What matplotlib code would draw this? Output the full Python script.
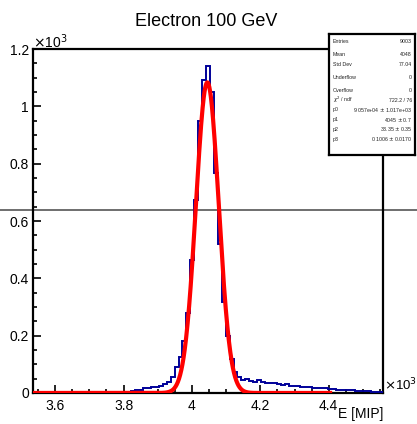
import numpy as np
import matplotlib
matplotlib.use("Agg")
import matplotlib.pyplot as plt
from matplotlib.lines import Line2D

plt.rcParams['font.family'] = ['Liberation Sans', 'DejaVu Sans']

# ---------------- data ----------------
title = "Electron 100 GeV"
xlabel = "E [MIP]"
hist_lo = 3.5352          # x10^3 MIP
bin_width = 0.0115        # x10^3 MIP
counts = [0] * 22 + [
    2, 3, 5, 8, 12, 12, 16, 18, 20, 22, 26, 32, 38, 55, 90, 125, 180, 280, 464,
    673, 950, 1092, 1140, 1050, 768, 520, 317, 200, 120, 75, 55, 45, 48, 42, 40,
    44, 38, 36, 34, 36, 30, 28, 32, 26, 24, 25, 22, 20, 21, 18, 19, 16, 17, 14,
    13, 12, 11, 10, 9, 10, 8, 7, 8, 6, 5, 5, 4]
fit_p = [9.057e4, 4045.0, 33.35, 0.1006]   # p0..p3
fit_range = [3.5352, 4.41]

stats_labels = ["Entries", "Mean", "Std Dev", "Underflow", "Overflow",
                r"$\chi^{2}$ / ndf", "p0", "p1", "p2", "p3"]
stats_values = ["9003", "4048", "77.04", "0", "0", "722.2 / 76",
                "9.057e+04 $\\pm$ 1.017e+03", "4045 $\\pm$ 0.7",
                "33.35 $\\pm$ 0.35", "0.1006 $\\pm$ 0.0170"]
xticks = [3.6, 3.8, 4.0, 4.2, 4.4]
xticklabels = ["3.6", "3.8", "4", "4.2", "4.4"]
yticks = [0, 0.2, 0.4, 0.6, 0.8, 1.0, 1.2]
yticklabels = ["0", "0.2", "0.4", "0.6", "0.8", "1", "1.2"]

# ---------------- figure ----------------
W, H = 417, 424
fig = plt.figure(figsize=(W / 100, H / 100), dpi=100)

def fx(px):
    return px / W

def fy(py):
    return 1 - py / H

ax = fig.add_axes([fx(33), fy(393), fx(383) - fx(33), fy(49) - fy(393)])
ax.patch.set_alpha(0)

counts = np.asarray(counts, dtype=float)
edges = hist_lo + bin_width * np.arange(len(counts) + 1)
ax.stairs(counts / 1000.0, edges, color="#000099", linewidth=1.4, zorder=3)

xf = np.linspace(fit_range[0], fit_range[1], 800)
p0, p1, p2, p3 = fit_p
yf = p0 / (np.sqrt(2 * np.pi) * p2) * np.exp(-0.5 * ((xf * 1000 - p1) / p2) ** 2) + p3
ax.plot(xf, yf / 1000.0, color="#ff0000", linewidth=3.0, zorder=4, solid_capstyle="butt")

ax.set_xlim(edges[0], edges[-1])
ax.set_ylim(0, 1.2)

for s in ["top", "right", "left", "bottom"]:
    ax.spines[s].set_linewidth(1.6)
    ax.spines[s].set_color("black")

ax.set_xticks(xticks)
ax.set_xticklabels(xticklabels)
ax.set_yticks(yticks)
ax.set_yticklabels(yticklabels)
ax.set_xticks(np.arange(3.55, 4.56, 0.05), minor=True)
ax.set_yticks(np.arange(0, 1.201, 0.05), minor=True)
ax.tick_params(which="both", direction="in", top=False, right=False, labelsize=10,
               width=1.2, color="black")
ax.tick_params(which="major", length=6)
ax.tick_params(which="minor", length=3)
ax.tick_params(axis="x", pad=4)
ax.tick_params(axis="y", pad=3)

fig.text(fx(206), fy(22), title, ha="center", va="center", fontsize=13)
fig.text(fx(383), fy(414), xlabel, ha="right", va="center", fontsize=10)
fig.text(fx(33), fy(42), r"$\times$10$^{3}$", ha="left", va="center", fontsize=10)
fig.text(fx(384), fy(385), r"$\times$10$^{3}$", ha="left", va="center", fontsize=9.5)

# gray horizontal line across the canvas
fig.add_artist(Line2D([0, 1], [fy(210), fy(210)], transform=fig.transFigure,
                      color="#555555", linewidth=1.2, zorder=-1))

# stats box
bx0, bx1, by0, by1 = 329, 415, 34, 155
box = fig.add_axes([fx(bx0), fy(by1), fx(bx1) - fx(bx0), fy(by0) - fy(by1)])
box.set_xticks([])
box.set_yticks([])
box.set_xlim(bx0, bx1)
box.set_ylim(by1, by0)
for s in box.spines.values():
    s.set_linewidth(1.6)
    s.set_color("black")
box.set_zorder(10)
row_y = [41.7, 55, 64.3, 77.7, 90.3, 100.3, 110, 119.7, 129, 139]
for lab, val, yy in zip(stats_labels, stats_values, row_y):
    box.text(bx0 + 4, yy, lab, ha="left", va="center", fontsize=3.8, color="#222222")
    box.text(bx1 - 3, yy, val, ha="right", va="center", fontsize=3.8, color="#222222")

fig.savefig("out.png", dpi=100)
